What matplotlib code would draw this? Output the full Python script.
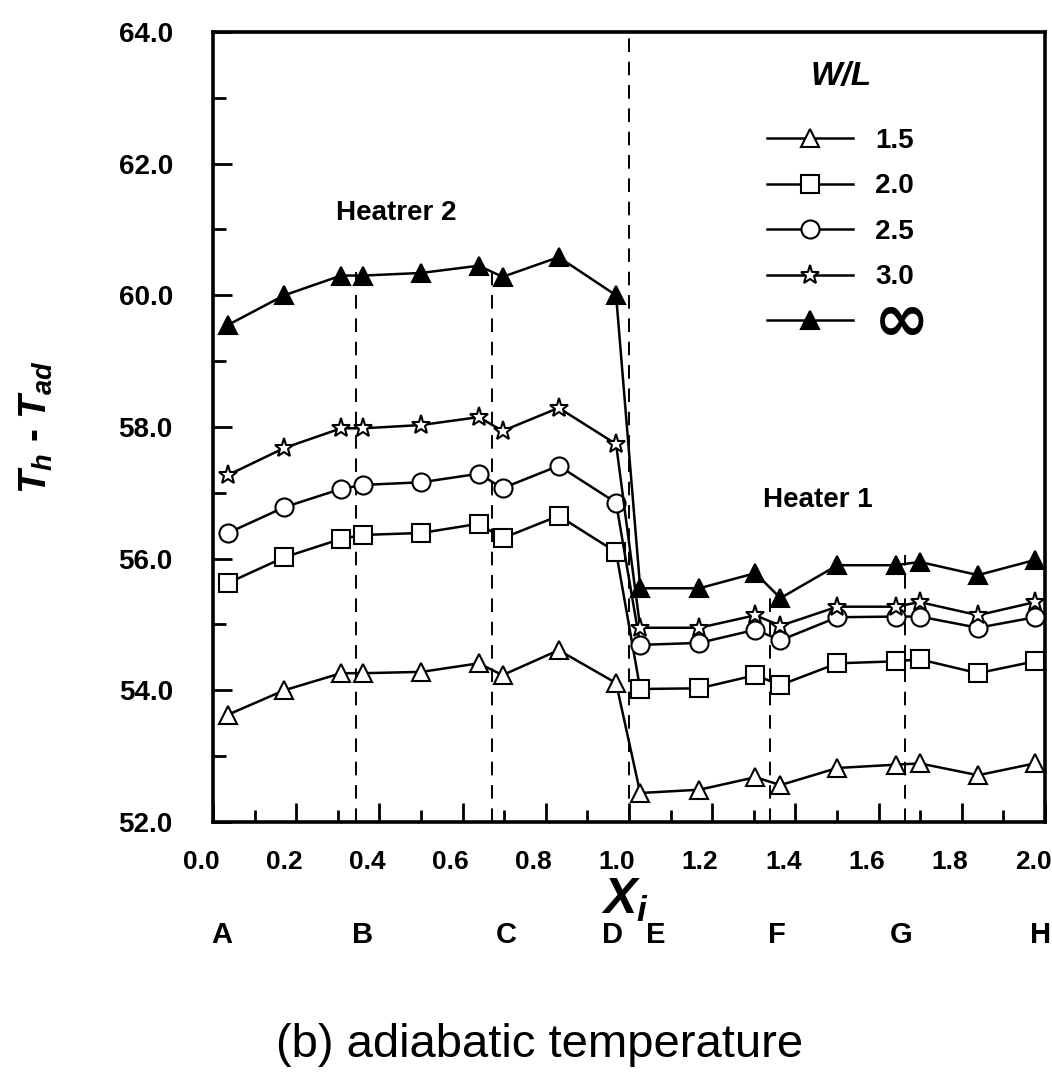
import matplotlib
matplotlib.use("Agg")
import matplotlib.pyplot as plt
from matplotlib.ticker import MultipleLocator, FormatStrFormatter
import matplotlib.transforms as mtransforms

# positions along the heaters (X_i)
x_pos = [0.036, 0.171, 0.308, 0.361, 0.501, 0.639, 0.696, 0.831, 0.969,
         1.027, 1.169, 1.304, 1.364, 1.501, 1.641, 1.699, 1.839, 1.976]

# T_h - T_ad for each W/L
wl_15 = [53.63, 54.00, 54.26, 54.26, 54.28, 54.41, 54.23, 54.61, 54.11,
         52.44, 52.49, 52.68, 52.56, 52.82, 52.87, 52.89, 52.71, 52.89]
wl_20 = [55.63, 56.02, 56.30, 56.36, 56.39, 56.53, 56.31, 56.65, 56.10,
         54.02, 54.03, 54.23, 54.08, 54.41, 54.44, 54.47, 54.26, 54.44]
wl_25 = [56.39, 56.78, 57.06, 57.12, 57.16, 57.29, 57.07, 57.41, 56.85,
         54.69, 54.72, 54.92, 54.76, 55.11, 55.12, 55.12, 54.95, 55.11]
wl_30 = [57.27, 57.68, 57.98, 57.98, 58.03, 58.15, 57.94, 58.29, 57.74,
         54.95, 54.95, 55.14, 54.98, 55.27, 55.27, 55.34, 55.14, 55.34]
wl_inf = [59.55, 60.00, 60.30, 60.30, 60.34, 60.45, 60.28, 60.58, 60.00,
          55.55, 55.55, 55.78, 55.40, 55.90, 55.90, 55.95, 55.75, 55.98]

# dashed section borders (x, top of line)
border_x = [0.343, 0.671, 1.0, 1.338, 1.664]
border_top = [60.35, 60.5, 64.0, 55.45, 56.05]

# section letters under the axis
sec_letters = ["A", "B", "C", "D", "E", "F", "G", "H"]
sec_x = [0.02, 0.36, 0.706, 0.961, 1.065, 1.356, 1.655, 1.99]

sans = ["Liberation Sans", "DejaVu Sans"]
plt.rcParams["mathtext.fontset"] = "custom"
plt.rcParams["mathtext.it"] = "Liberation Sans:italic:bold"
plt.rcParams["mathtext.rm"] = "Liberation Sans:bold"
plt.rcParams["mathtext.bf"] = "Liberation Sans:bold"

fig = plt.figure(figsize=(10.52, 10.77), dpi=100)
ax = fig.add_axes([0.2025, 0.2368, 0.7908, 0.7335])

for xb, yt in zip(border_x, border_top):
    ax.plot([xb, xb], [52, yt], color="black", lw=1.4, ls=(0, (7, 5)), zorder=1)

series = [
    (wl_15, "^", "white", "1.5"),
    (wl_20, "s", "white", "2.0"),
    (wl_25, "o", "white", "2.5"),
    (wl_30, "*", "white", "3.0"),
    (wl_inf, "^", "black", "inf"),
]
for vals, mk, fc, lab in series:
    ms = 13 if mk != "*" else 14
    ax.plot(x_pos, vals, color="black", lw=1.8, marker=mk, ms=ms,
            mfc=fc, mec="black", mew=1.5, label=lab, zorder=3)

ax.set_xlim(0, 2.0)
ax.set_ylim(52, 64)
ax.xaxis.set_major_locator(MultipleLocator(0.2))
ax.xaxis.set_minor_locator(MultipleLocator(0.1))
ax.yaxis.set_major_locator(MultipleLocator(2))
ax.yaxis.set_minor_locator(MultipleLocator(1))
ax.xaxis.set_major_formatter(FormatStrFormatter("%.1f"))
ax.yaxis.set_major_formatter(FormatStrFormatter("%.1f"))
ax.tick_params(which="both", direction="in", width=2, top=False, right=False)
ax.tick_params(which="major", length=14)
ax.tick_params(which="minor", length=9)
ax.tick_params(axis="x", pad=20)
ax.tick_params(axis="y", pad=29)
for lbl in ax.get_yticklabels():
    lbl.set_family(sans)
    lbl.set_fontweight("bold")
    lbl.set_fontsize(20)
shift = mtransforms.ScaledTranslation(-12 / 100, 0, fig.dpi_scale_trans)
for lbl in ax.get_xticklabels():
    lbl.set_family(sans)
    lbl.set_fontweight("bold")
    lbl.set_fontsize(19)
    lbl.set_transform(lbl.get_transform() + shift)
for sp in ax.spines.values():
    sp.set_linewidth(2.6)

ax.set_xlabel(r"$X_i$", fontsize=36)
ax.xaxis.set_label_coords(0.495, -0.068)
ax.set_ylabel(r"$T_h$ - $T_{ad}$", fontsize=28, fontweight="bold", family=sans)
ax.yaxis.set_label_coords(-0.19, 0.5)

ax.text(0.44, 61.25, "Heatrer 2", fontsize=20, fontweight="bold",
        family=sans, ha="center", va="center")
ax.text(1.453, 56.89, "Heater 1", fontsize=20, fontweight="bold",
        family=sans, ha="center", va="center")

leg = ax.legend(loc="upper left", bbox_to_anchor=(0.636, 0.995), frameon=False,
                handlelength=3.1, handletextpad=0.8, labelspacing=0.7,
                prop={"family": sans, "weight": "bold", "size": 20},
                title="W/L", title_fontproperties={"family": "Liberation Sans",
                                                    "weight": "bold", "style": "italic",
                                                    "size": 24})
leg._legend_box.sep = 26

# the infinity label is drawn larger than the other entries, on top of its slot
fig.canvas.draw()
inf_txt = leg.get_texts()[-1]
bb = inf_txt.get_window_extent()
inf_txt.set_alpha(0)
fig.text(bb.x0 - 2, (bb.y0 + bb.y1) / 2 + 1, "\u221e", transform=None,
         fontsize=48, fontweight="bold", family=["DejaVu Sans"],
         ha="left", va="center")

trans = mtransforms.blended_transform_factory(ax.transData, fig.transFigure)
for letter, xs in zip(sec_letters, sec_x):
    fig.text(xs, 1 - 935 / 1077, letter, transform=trans, fontsize=21,
             fontweight="bold", family=sans, ha="center", va="center")

fig.text(0.513, 1 - 1045 / 1077, "(b) adiabatic temperature", fontsize=34,
         family=sans, ha="center", va="center")

fig.savefig("out.png", dpi=100)
